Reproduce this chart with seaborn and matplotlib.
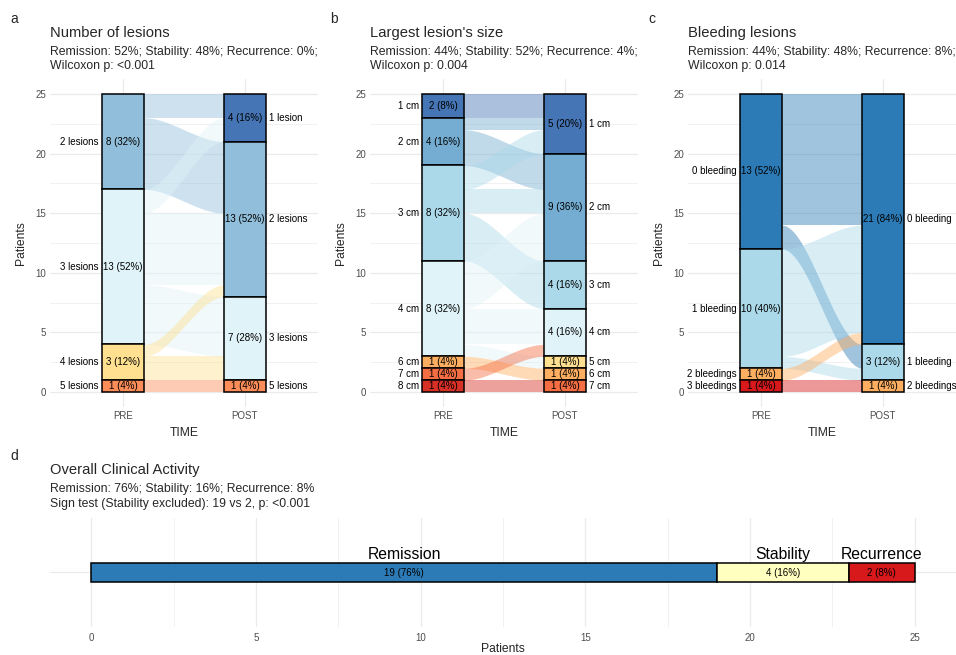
import numpy as np
import pandas as pd
import matplotlib
matplotlib.use("Agg")
import matplotlib.pyplot as plt
from matplotlib.ticker import NullLocator
import seaborn as sns

# ---- data -----------------------------------------------------------------
# panel a: number of lesions (flows PRE -> POST)
lesion_levels = ["1 lesion", "2 lesions", "3 lesions", "4 lesions", "5 lesions"]
lesion_colors = ["#4575b4", "#91bfdb", "#e0f3f8", "#fee090", "#fc8d59"]
lesion_pre = ["2 lesions", "2 lesions", "3 lesions", "3 lesions", "3 lesions",
              "4 lesions", "4 lesions", "5 lesions"]
lesion_post = ["1 lesion", "2 lesions", "1 lesion", "2 lesions", "3 lesions",
               "2 lesions", "3 lesions", "5 lesions"]
lesion_n = [2, 6, 2, 6, 5, 1, 2, 1]

# panel b: largest lesion's size
size_levels = ["1 cm", "2 cm", "3 cm", "4 cm", "5 cm", "6 cm", "7 cm", "8 cm"]
size_colors = ["#4575b4", "#74add1", "#abd9e9", "#e0f3f8",
               "#fee090", "#fdae61", "#f46d43", "#d73027"]
size_pre = ["1 cm", "2 cm", "2 cm", "3 cm", "3 cm", "3 cm",
            "4 cm", "4 cm", "4 cm", "6 cm", "7 cm", "8 cm"]
size_post = ["1 cm", "1 cm", "2 cm", "1 cm", "2 cm", "3 cm",
             "2 cm", "4 cm", "5 cm", "6 cm", "4 cm", "7 cm"]
size_n = [2, 1, 3, 2, 2, 4, 4, 3, 1, 1, 1, 1]

# panel c: bleeding lesions
bleed_levels = ["0 bleeding", "1 bleeding", "2 bleedings", "3 bleedings"]
bleed_colors = ["#2c7bb6", "#abd9e9", "#fdae61", "#d7191c"]
bleed_pre = ["0 bleeding", "0 bleeding", "1 bleeding", "1 bleeding",
             "2 bleedings", "3 bleedings"]
bleed_post = ["0 bleeding", "1 bleeding", "0 bleeding", "1 bleeding",
              "0 bleeding", "2 bleedings"]
bleed_n = [11, 2, 9, 1, 1, 1]

# panel d: overall clinical activity
activity_cats = ["Remission", "Stability", "Recurrence"]
activity_n = [19, 4, 2]
activity_colors = ["#2c7bb6", "#ffffbf", "#d7191c"]

time_labels = ["PRE", "POST"]

titles = ["Number of lesions", "Largest lesion's size", "Bleeding lesions"]
subtitles = [
    ["Remission: 52%; Stability: 48%; Recurrence: 0%;", "Wilcoxon p: <0.001"],
    ["Remission: 44%; Stability: 52%; Recurrence: 4%;", "Wilcoxon p: 0.004"],
    ["Remission: 44%; Stability: 48%; Recurrence: 8%;", "Wilcoxon p: 0.014"],
]
d_title = "Overall Clinical Activity"
d_subtitle = ["Remission: 76%; Stability: 16%; Recurrence: 8%",
              "Sign test (Stability excluded): 19 vs 2, p: <0.001"]

# ---- style ----------------------------------------------------------------
sns.set_theme(style="whitegrid")
plt.rcParams["font.family"] = ["Liberation Sans", "DejaVu Sans"]
plt.rcParams["axes.axisbelow"] = True

GRID = "#ebebeb"
TICK = "#4d4d4d"
W, H = 956, 655
fig = plt.figure(figsize=(W / 100, H / 100), dpi=100)


def fx(px):
    return px / W


def fy(py):
    return 1 - py / H


def smooth(t):
    return 3 * t ** 2 - 2 * t ** 3


def alluvial(ax, levels, colors, pre, post, n):
    flows = pd.DataFrame({"pre": pre, "post": post, "n": n})
    rank = {lv: i for i, lv in enumerate(levels)}
    flows["pi"] = flows["pre"].map(rank)
    flows["qi"] = flows["post"].map(rank)
    total = flows["n"].sum()
    w = 0.34

    # lode positions on each axis, stacked from the top
    ends = {}
    for side, own, other, x in [("pre", "pi", "qi", 1), ("post", "qi", "pi", 2)]:
        tot = flows.groupby(own)["n"].sum()
        top = total
        los, his, cols, labs = [], [], [], []
        for i, lv in enumerate(levels):
            c = tot.get(i, 0)
            if c == 0:
                continue
            sub = flows[flows[own] == i].sort_values(other)
            y = top
            for idx, row in sub.iterrows():
                ends[(side, idx)] = (y - row["n"], y)
                y -= row["n"]
            los.append(top - c)
            his.append(top)
            cols.append(colors[i])
            labs.append(lv)
            top -= c
        los = np.array(los)
        cnt = np.array(his) - los
        ax.bar([x] * len(los), cnt, bottom=los, width=w, color=cols,
               edgecolor="black", linewidth=1.1, zorder=3)
        for lo, c, lv in zip(los, cnt, labs):
            mid = lo + c / 2
            ax.text(x, mid, f"{c} ({round(100 * c / total)}%)", ha="center",
                    va="center", fontsize=7, color="black", zorder=4)
            if side == "pre":
                ax.text(x - w / 2 - 0.028, mid, lv, ha="right", va="center",
                        fontsize=7, color="black")
            else:
                ax.text(x + w / 2 + 0.028, mid, lv, ha="left", va="center",
                        fontsize=7, color="black")

    xs = np.linspace(1 + w / 2, 2 - w / 2, 80)
    s = smooth((xs - xs[0]) / (xs[-1] - xs[0]))
    for idx, row in flows.iterrows():
        a_lo, a_hi = ends[("pre", idx)]
        b_lo, b_hi = ends[("post", idx)]
        ax.fill_between(xs, a_lo + (b_lo - a_lo) * s, a_hi + (b_hi - a_hi) * s,
                        color=colors[row["pi"]], alpha=0.45, lw=0, zorder=2)

    ax.set_xlim(0.4, 2.6)
    ax.set_ylim(-1.25, 26.25)
    ax.set_xticks([1, 2], time_labels)
    ax.set_yticks(range(0, 26, 5))
    ax.set_yticks(np.arange(2.5, 25, 5), minor=True)
    ax.xaxis.set_minor_locator(NullLocator())
    ax.grid(which="major", color=GRID, lw=0.9)
    ax.grid(which="minor", axis="y", color=GRID, lw=0.5)
    ax.tick_params(which="both", length=0, labelsize=7, labelcolor=TICK, pad=3)
    ax.set_xlabel("TIME", fontsize=8.7, labelpad=4)
    ax.set_ylabel("Patients", fontsize=8.7, labelpad=6)
    sns.despine(ax=ax, left=True, bottom=True)


panels = [
    (lesion_levels, lesion_colors, lesion_pre, lesion_post, lesion_n),
    (size_levels, size_colors, size_pre, size_post, size_n),
    (bleed_levels, bleed_colors, bleed_pre, bleed_post, bleed_n),
]
lefts = [50, 370, 688]
tags = ["a", "b", "c"]
for k, (levels, colors, pre, post, n) in enumerate(panels):
    left = lefts[k]
    ax = fig.add_axes([fx(left), fy(407), 268 / W, 328 / H])
    alluvial(ax, levels, colors, pre, post, n)
    fig.text(fx(left - 40), fy(19), tags[k], fontsize=10, ha="left", va="center")
    fig.text(fx(left), fy(33), titles[k], fontsize=10.6, ha="left", va="center")
    fig.text(fx(left), fy(52), subtitles[k][0], fontsize=8.8, ha="left", va="center")
    fig.text(fx(left), fy(66.5), subtitles[k][1], fontsize=8.8, ha="left", va="center")

# ---- panel d --------------------------------------------------------------
axd = fig.add_axes([fx(50), fy(627), 906 / W, 109 / H])
starts = np.concatenate([[0], np.cumsum(activity_n)[:-1]])
bar_h = 0.2
axd.barh([1] * len(activity_n), activity_n, left=starts, height=bar_h,
         color=activity_colors, edgecolor="black", linewidth=1.1, zorder=3)
total_d = sum(activity_n)
for st, c, cat in zip(starts, activity_n, activity_cats):
    axd.text(st + c / 2, 1, f"{c} ({round(100 * c / total_d)}%)", ha="center",
             va="center", fontsize=7, color="black", zorder=4)
    axd.text(st + c / 2, 1 + bar_h / 2 + 0.02, cat, ha="center", va="bottom",
             fontsize=11.3, color="black")
axd.set_xlim(-1.25, 26.25)
axd.set_ylim(0.4, 1.6)
axd.set_xticks(range(0, 26, 5))
axd.set_xticks(np.arange(2.5, 25, 5), minor=True)
axd.set_yticks([1], [""])
axd.yaxis.set_minor_locator(NullLocator())
axd.grid(which="major", color=GRID, lw=0.9)
axd.grid(which="minor", axis="x", color=GRID, lw=0.5)
axd.tick_params(which="both", length=0, labelsize=7, labelcolor=TICK, pad=4)
axd.set_xlabel("Patients", fontsize=8.7, labelpad=0)
sns.despine(ax=axd, left=True, bottom=True)

fig.text(fx(10), fy(456), "d", fontsize=10, ha="left", va="center")
fig.text(fx(50), fy(470), d_title, fontsize=10.6, ha="left", va="center")
fig.text(fx(50), fy(489), d_subtitle[0], fontsize=8.8, ha="left", va="center")
fig.text(fx(50), fy(504), d_subtitle[1], fontsize=8.8, ha="left", va="center")

fig.savefig("out.png", dpi=100)
